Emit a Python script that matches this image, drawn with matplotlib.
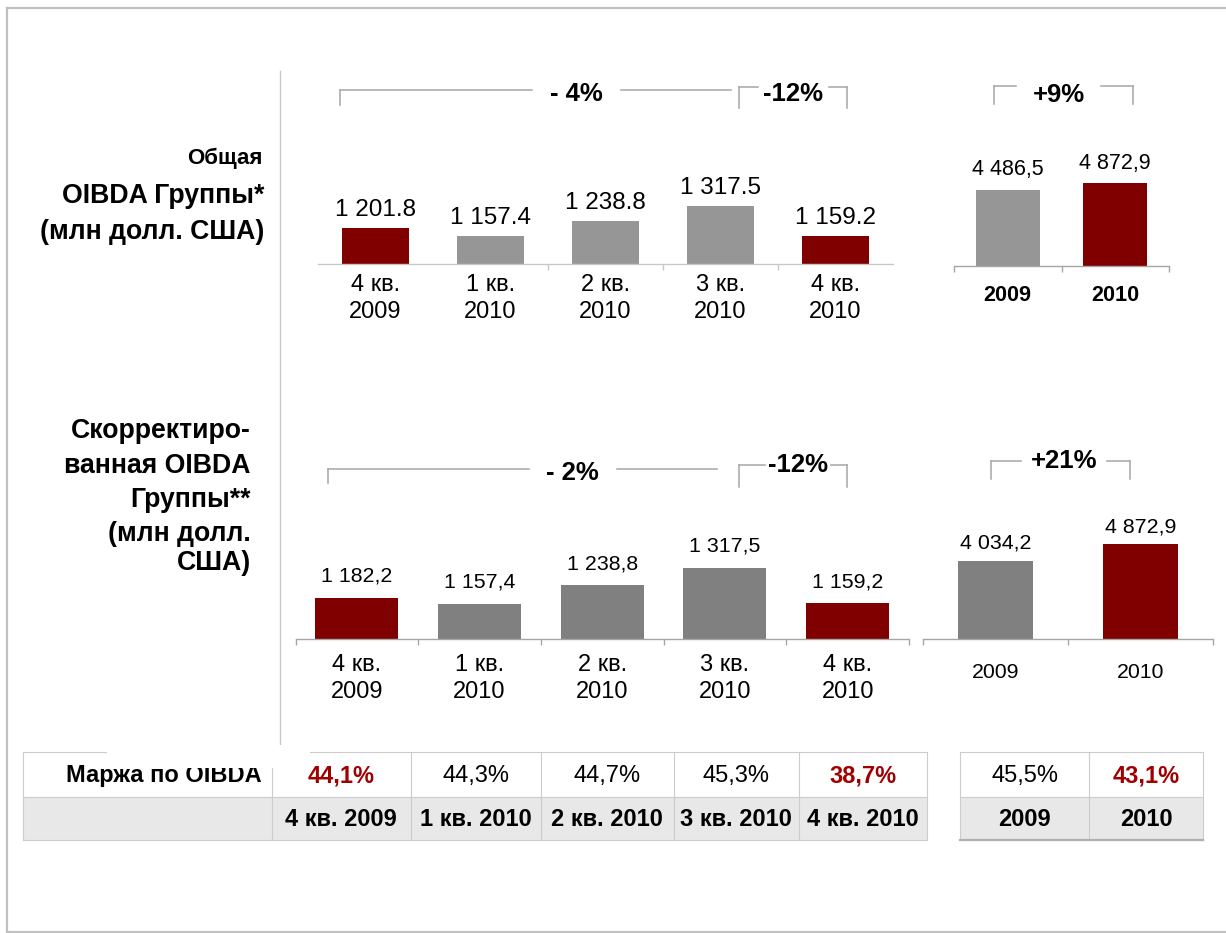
import matplotlib
matplotlib.use("Agg")
import matplotlib.pyplot as plt
from matplotlib.patches import Rectangle
from matplotlib.transforms import blended_transform_factory

plt.rcParams['font.family'] = ['Liberation Sans', 'DejaVu Sans']

# данные
quarters = ["4 кв.\n2009", "1 кв.\n2010", "2 кв.\n2010", "3 кв.\n2010", "4 кв.\n2010"]
quarters_tab = ["4 кв. 2009", "1 кв. 2010", "2 кв. 2010", "3 кв. 2010", "4 кв. 2010"]
years = ["2009", "2010"]
oibda_q = [1201.8, 1157.4, 1238.8, 1317.5, 1159.2]
oibda_y = [4486.5, 4872.9]
adj_oibda_q = [1182.2, 1157.4, 1238.8, 1317.5, 1159.2]
adj_oibda_y = [4034.2, 4872.9]
margin_q = [44.1, 44.3, 44.7, 45.3, 38.7]
margin_y = [45.5, 43.1]
hl_q = [True, False, False, False, True]
hl_y = [False, True]
chg_oibda = ["- 4%", "-12%", "+9%"]
chg_adj = ["- 2%", "-12%", "+21%"]

RED = '#800000'
TXT_RED = '#a00000'
LINE = '#a6a6a6'

W, H = 1226, 933
fig = plt.figure(figsize=(W / 100, H / 100), dpi=100)
bg = fig.add_axes([0, 0, 1, 1])
bg.set_xlim(0, W)
bg.set_ylim(H, 0)
bg.axis('off')


def px2pt(px):
    return px * 72 / 100


def put(ax_, x, y, s, size, trans, **kw):
    # y = visual centre of digits/caps in pixels (from top)
    ax_.text(x, y + 0.358 * size * 100 / 72, s, fontsize=size, transform=trans,
             va='baseline', **kw)


def fmt(v, dec=','):
    return f"{v:,.1f}".replace(',', ' ').replace('.', dec)


def bar_panel(x0, x1, y_base, ymin, scale, values, hl, gray, width):
    n = len(values)
    ax = fig.add_axes([x0 / W, 1 - y_base / H, (x1 - x0) / W, 150 / H])
    ax.set_xlim(-0.5, n - 0.5)
    ax.set_ylim(ymin, ymin + 150 / scale)
    ax.axis('off')
    ax.bar(range(n), values, width=width, color=[RED if h else gray for h in hl])
    tr = blended_transform_factory(ax.transData, bg.transData)
    return ax, tr


def axis_line(ax, tr, n, y, ticks, color):
    ax.plot([-0.5, n - 0.5], [y, y], color=color, lw=1, transform=tr, clip_on=False)
    ax.vlines(ticks, y, y + 6, color=color, lw=1, transform=tr, clip_on=False)


def values_text(ax, values, dec, size, off):
    for i, v in enumerate(values):
        ax.annotate(fmt(v, dec), (i, v), xytext=(0, px2pt(off)), textcoords='offset points',
                    ha='center', va='baseline', fontsize=size)


def tick_text(ax, tr, labels, y, step, size, weight='normal'):
    for i, lab in enumerate(labels):
        for j, line in enumerate(lab.split('\n')):
            put(ax, i, y + j * step, line, size, tr, ha='center', fontweight=weight)


def bracket(ax, tr, y, x0, x1, g0, g1, label, ty, drop, left=True, right=True):
    kw = dict(color=LINE, lw=1.1, transform=tr, clip_on=False)
    ax.plot([x0, g0], [y, y], **kw)
    ax.plot([g1, x1], [y, y], **kw)
    if left:
        ax.plot([x0, x0], [y, drop], **kw)
    if right:
        ax.plot([x1, x1], [y, drop], **kw)
    put(ax, (g0 + g1) / 2, ty, label, 18.5, tr, ha='center', fontweight='bold')


# --- Общая OIBDA, кварталы
ax, tr = bar_panel(318, 893, 264, 1010, 0.1874, oibda_q, hl_q, '#969696', 0.574)
axis_line(ax, tr, 5, 264, [1.5, 2.5, 3.5], '#c8c8c8')
values_text(ax, oibda_q, '.', 17.5, 12.3)
tick_text(ax, tr, quarters, 283, 27, 17)
bracket(ax, tr, 90, -0.309, 3.091, 1.365, 2.135, chg_oibda[0], 92, 105, right=False)
bracket(ax, tr, 86.7, 3.161, 4.1, 3.322, 3.943, chg_oibda[1], 92, 108)

# --- Общая OIBDA, годы
ax, tr = bar_panel(954, 1169, 266, 0, 0.017, oibda_y, hl_y, '#969696', 0.595)
axis_line(ax, tr, 2, 266, [-0.5, 0.5, 1.5], LINE)
values_text(ax, oibda_y, ',', 15.5, 14.6)
tick_text(ax, tr, years, 293, 0, 15.6, 'bold')
bracket(ax, tr, 86, -0.128, 1.165, 0.077, 0.867, chg_oibda[2], 93, 104)

# --- Скорректированная OIBDA, кварталы
ax, tr = bar_panel(295.5, 909, 638.5, 1003, 0.225, adj_oibda_q, hl_q, '#808080', 0.676)
axis_line(ax, tr, 5, 639, [-0.5, 0.5, 1.5, 2.5, 3.5, 4.5], LINE)
values_text(ax, adj_oibda_q, ',', 15.4, 16.3)
tick_text(ax, tr, quarters, 663, 27, 17)
bracket(ax, tr, 469.3, -0.235, 2.939, 1.403, 2.118, chg_adj[0], 470.7, 483, right=False)
bracket(ax, tr, 465, 3.115, 3.995, 3.326, 3.864, chg_adj[1], 463, 486.7)

# --- Скорректированная OIBDA, годы
ax, tr = bar_panel(922.7, 1213, 638.5, 0, 0.0193, adj_oibda_y, hl_y, '#808080', 0.517)
axis_line(ax, tr, 2, 639, [-0.5, 0.5, 1.5], LINE)
values_text(ax, adj_oibda_y, ',', 15.4, 12.3)
tick_text(ax, tr, years, 670, 0, 15.3)
bracket(ax, tr, 460.7, -0.032, 0.928, 0.175, 0.768, chg_adj[2], 459, 479)

# --- рамка и разделитель
fr = dict(color='#c0c0c0', lw=1.6)
bg.plot([7, 7], [8, 932], **fr)
bg.plot([7, W], [8, 8], **fr)
bg.plot([7, W], [932, 932], **fr)
bg.plot([279.5, 279.5], [71, 750], color='#c8c8c8', lw=1)

# --- подписи слева
lab = dict(ha='right', fontweight='bold')
put(bg, 262, 156, "Общая", 16, bg.transData, **lab)
put(bg, 264, 193, "OIBDA Группы*", 19.2, bg.transData, **lab)
put(bg, 264, 229, "(млн долл. США)", 19.2, bg.transData, **lab)
for s, y in zip(["Скорректиро-", "ванная OIBDA", "Группы**", "(млн долл.", "США)"],
                [428, 463, 497, 531, 560]):
    put(bg, 251, y, s, 19.2, bg.transData, **lab)

# --- таблица маржи
rows = [751.7, 796.7, 840]
cols_q = [22.7, 271.7, 411, 540.5, 673.5, 798.6, 927]
cols_y = [960, 1089.3, 1202.7]
grid = dict(color='#cccccc', lw=0.8)
for cols in (cols_q, cols_y):
    bg.add_patch(Rectangle((cols[0], rows[1]), cols[-1] - cols[0], rows[2] - rows[1],
                           facecolor='#e8e8e8', edgecolor='none'))
    for y in rows:
        bg.plot([cols[0], cols[-1]], [y, y], **grid)
    for x in cols:
        bg.plot([x, x], [rows[0], rows[2]], **grid)
bg.plot([cols_y[0], cols_y[-1]], [rows[2], rows[2]], color='#b0b0b0', lw=1.6)

put(bg, 261.7, 774, "Маржа по OIBDA", 17, bg.transData, ha='right', fontweight='bold')
for cols, margins, heads, hls in ((cols_q[1:], margin_q, quarters_tab, hl_q),
                                  (cols_y, margin_y, years, hl_y)):
    for i, (m, hd, h) in enumerate(zip(margins, heads, hls)):
        xc = (cols[i] + cols[i + 1]) / 2
        put(bg, xc, 774, f"{m:.1f}%".replace('.', ','), 17, bg.transData, ha='center',
            color=TXT_RED if h else 'black', fontweight='bold' if h else 'normal')
        put(bg, xc, 818, hd, 17, bg.transData, ha='center', fontweight='bold')

# белая плашка поверх верхней границы таблицы (как на слайде)
bg.add_patch(Rectangle((107, 745), 203, 22.5, facecolor='white', edgecolor='none', zorder=10))

fig.savefig('out.png', dpi=100)
